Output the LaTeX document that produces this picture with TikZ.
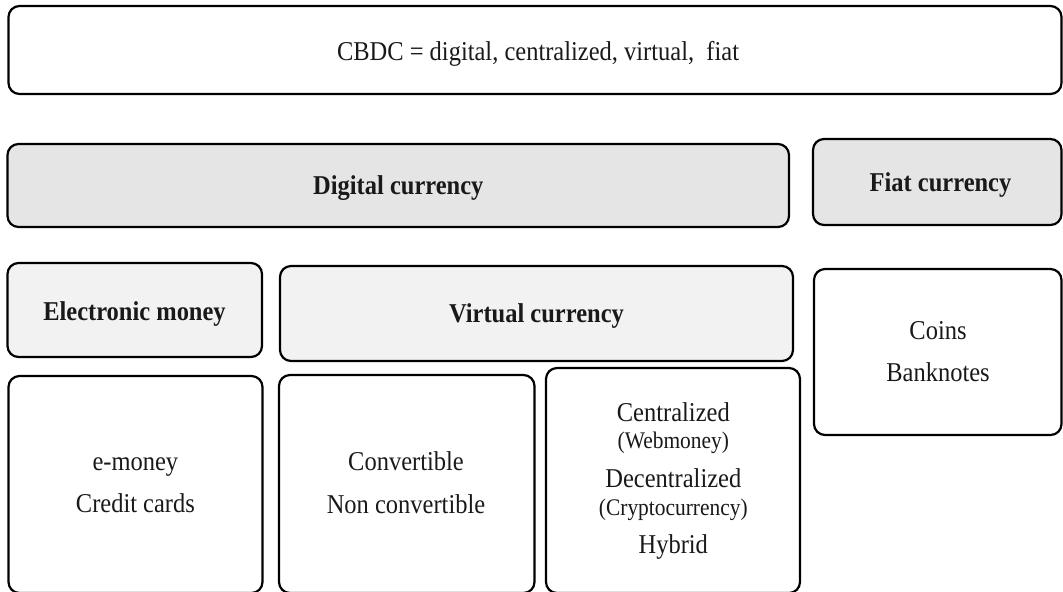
\documentclass[tikz,border=0pt]{standalone}
\usepackage{fontspec}
\setmainfont{Liberation Serif}[FakeStretch=0.9]
\newcommand\myreg{\fontsize{13.6}{16}\selectfont}
\newcommand\mybold{\fontsize{13.6}{16}\selectfont\bfseries}
\newcommand\mysmall{\fontsize{11.9}{14}\selectfont}
\definecolor{hdark}{HTML}{E5E5E5}
\definecolor{hlight}{HTML}{F2F2F2}
\tikzset{
  box/.style={draw=black, line width=1.1pt, rounded corners=5.5pt, inner sep=0pt},
  headdark/.style={box, fill=hdark},
  headlight/.style={box, fill=hlight},
  plainbox/.style={box, fill=white},
  lbl/.style={anchor=base, inner sep=0pt, text=black!90},
}
\begin{document}
\begin{tikzpicture}[x=0.5pt, y=-0.5pt]
\useasboundingbox (0,0) rectangle (1063,591);
\clip (0,0) rectangle (1063,591);
% boxes
\node[plainbox, minimum width=526.5pt, minimum height=44pt] (cbdc) at (535,50) {};
\node[headdark, minimum width=390.75pt, minimum height=41.5pt] (digital) at (398.25,185.5) {};
\node[headdark, minimum width=124.25pt, minimum height=43pt] (fiat) at (937.25,182) {};
\node[headlight, minimum width=127.25pt, minimum height=47pt] (emoney) at (134.75,310) {};
\node[headlight, minimum width=256.5pt, minimum height=47.5pt] (virtual) at (536.5,313.5) {};
\node[plainbox, minimum width=123.75pt, minimum height=83pt] (coins) at (937.75,352) {};
\node[plainbox, minimum width=127pt, minimum height=108.5pt] (emlist) at (135.5,484.5) {};
\node[plainbox, minimum width=127.75pt, minimum height=109pt] (convlist) at (406.75,484) {};
\node[plainbox, minimum width=127pt, minimum height=112.5pt] (centlist) at (673,480.5) {};
% labels
\node[lbl, font=\myreg] (tcbdc) at (538,60) {CBDC = digital, centralized, virtual,\ \ fiat};
\node[lbl, font=\mybold] (tdigital) at (398.3,194.3) {Digital currency};
\node[lbl, font=\mybold] (tfiat) at (940.5,191.7) {Fiat currency};
\node[lbl, font=\mybold] (temoney) at (134.5,320) {Electronic money};
\node[lbl, font=\mybold] (tvirtual) at (536.5,322.5) {Virtual currency};
\node[lbl, font=\myreg] (tcoins) at (938,339.3) {Coins};
\node[lbl, font=\myreg] (tbank) at (938,381.7) {Banknotes};
\node[lbl, font=\myreg] (tem) at (135.4,470.5) {e-money};
\node[lbl, font=\myreg] (tcc) at (135.4,512.5) {Credit cards};
\node[lbl, font=\myreg] (tconv) at (406,470.7) {Convertible};
\node[lbl, font=\myreg] (tnconv) at (406,513) {Non convertible};
\node[lbl, font=\myreg] (tcent) at (673.3,421) {Centralized};
\node[lbl, font=\mysmall] (tweb) at (673.3,448.3) {(Webmoney)};
\node[lbl, font=\myreg] (tdec) at (673.3,487.7) {Decentralized};
\node[lbl, font=\mysmall] (tcrypto) at (673.3,515) {(Cryptocurrency)};
\node[lbl, font=\myreg] (thyb) at (673.3,553.3) {Hybrid};
\end{tikzpicture}
\end{document}
